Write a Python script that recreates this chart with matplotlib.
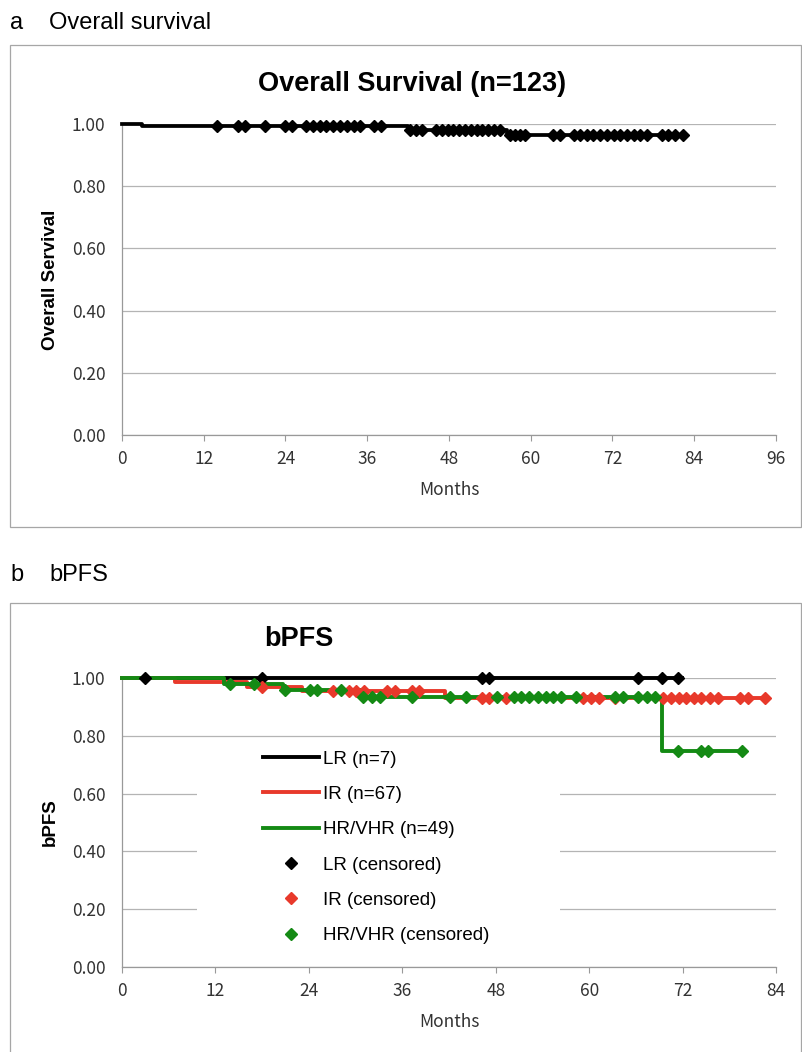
import numpy as np
import matplotlib
matplotlib.use("Agg")
import matplotlib.pyplot as plt
from matplotlib.patches import Rectangle

# ---------------- data ----------------
# Overall survival (n=123): step times / survival levels
os_times = [0, 3, 42, 56.5, 82.4]
os_surv = [1.0, 0.992, 0.982, 0.965, 0.965]
os_censored = [14, 17, 18, 21, 24, 25, 27, 28, 29, 30, 31, 32, 33, 34, 35, 37, 38,
               42.3, 43.2, 44.1, 46.1, 47.0, 47.9, 48.6, 49.5, 50.3, 51.2, 52.1, 52.9, 53.7, 54.6, 55.5,
               57.0, 57.7, 58.4, 59.2, 63.3, 64.3, 66.3, 67.2, 68.2, 69.2, 70.2, 71.2, 72.2, 73.1,
               74.1, 75.1, 76.1, 77.0, 79.2, 80.2, 81.2, 82.4]

# bPFS
lr_times = [0, 71.9]
lr_surv = [1.0, 1.0]
lr_censored = [3.0, 18.0, 46.2, 47.2, 66.3, 69.4, 71.4]

ir_times = [0, 6.8, 16.0, 23.1, 41.5, 82.6]
ir_surv = [1.0, 0.985, 0.970, 0.955, 0.930, 0.930]
ir_censored = [18.0, 27.1, 29.1, 30.0, 31.1, 34.0, 35.1, 37.2, 38.2,
               46.2, 47.2, 49.3, 59.2, 60.3, 61.3, 63.3, 69.5, 70.5, 71.5, 72.5, 73.5,
               74.4, 75.5, 76.5, 79.4, 80.4, 82.6]

hr_times = [0, 13.1, 20.7, 30.8, 69.3, 79.6]
hr_surv = [1.0, 0.980, 0.959, 0.935, 0.748, 0.748]
hr_censored = [13.9, 16.9, 20.9, 24.1, 25.1, 28.1, 31.0, 32.1, 33.1, 37.2, 42.1, 44.2,
               48.2, 50.3, 51.3, 52.3, 53.4, 54.4, 55.4, 56.4, 58.3, 63.3, 64.4, 66.3,
               67.4, 68.4, 71.4, 74.4, 75.3, 79.6]

labels_lines = ["LR (n=7)", "IR (n=67)", "HR/VHR (n=49)"]
labels_cens = ["LR (censored)", "IR (censored)", "HR/VHR (censored)"]

BLACK = "#000000"
RED = "#e8392b"
GREEN = "#148a14"
GRID = "#b4b4b4"
TXT = "#333333"
TICKFONT = ["Noto Sans CJK JP", "DejaVu Sans"]
ARIAL = ["Liberation Sans", "DejaVu Sans"]


def surv_at(times, surv, t):
    times = np.asarray(times)
    surv = np.asarray(surv)
    idx = np.searchsorted(times, np.asarray(t), side="right") - 1
    return surv[idx]


fig = plt.figure(figsize=(8.02, 10.52), dpi=100)
W, H = 802, 1052


def fx(px):
    return px / W


def fy(py):
    return 1 - py / H


# outer boxes
fig.add_artist(Rectangle((fx(10), fy(527)), fx(791), (527 - 45) / H,
                         transform=fig.transFigure, fill=False, edgecolor="#a6a6a6", lw=0.9))
fig.add_artist(Rectangle((fx(10), fy(1060)), fx(791), (1060 - 603) / H,
                         transform=fig.transFigure, fill=False, edgecolor="#a6a6a6", lw=0.9))

fig.text(fx(10), fy(29), "a", fontsize=17, family=ARIAL, va="baseline")
fig.text(fx(49), fy(29), "Overall survival", fontsize=17, family=ARIAL, va="baseline")
fig.text(fx(10), fy(581), "b", fontsize=17, family=ARIAL, va="baseline")
fig.text(fx(49), fy(581), "bPFS", fontsize=17, family=ARIAL, va="baseline")


def style_axes(ax, xmax, ylabel):
    ax.set_xlim(0, xmax)
    ax.set_ylim(0, 1.0)
    ax.set_xticks(np.arange(0, xmax + 1, 12))
    ax.set_yticks(np.arange(0, 1.01, 0.2))
    ax.set_yticklabels([f"{v:.2f}" for v in np.arange(0, 1.01, 0.2)])
    for s in ["top", "right"]:
        ax.spines[s].set_visible(False)
    ax.spines["left"].set_color("#999999")
    ax.spines["bottom"].set_color("#999999")
    ax.spines["left"].set_linewidth(0.9)
    ax.spines["bottom"].set_linewidth(0.9)
    ax.grid(axis="y", color=GRID, lw=0.9, zorder=0)
    ax.set_axisbelow(True)
    ax.tick_params(axis="y", length=0, pad=12, labelsize=12.5, labelcolor=TXT)
    ax.tick_params(axis="x", length=4, color="#999999", pad=7, labelsize=12.5, labelcolor=TXT)
    for lab in ax.get_xticklabels() + ax.get_yticklabels():
        lab.set_family(TICKFONT)
    ax.set_xlabel("Months", family=TICKFONT, fontsize=12.5, color=TXT, labelpad=9)
    ax.set_ylabel(ylabel, family=ARIAL, fontsize=13.5, fontweight="bold", labelpad=9)


# ---------------- panel a ----------------
ax1 = fig.add_axes([fx(122), fy(435), (776 - 122) / W, (435 - 124) / H])
style_axes(ax1, 96, "Overall Servival")
ax1.step(os_times, os_surv, where="post", color=BLACK, lw=2.7, zorder=3, clip_on=False)
ax1.plot(os_censored, surv_at(os_times, os_surv, os_censored), ls="none", marker="D",
         ms=6.2, color=BLACK, zorder=4, clip_on=False)
fig.text(fx(412), fy(91), "Overall Survival (n=123)", ha="center", va="baseline",
         fontsize=19.5, fontweight="bold", family=ARIAL)

# ---------------- panel b ----------------
ax2 = fig.add_axes([fx(122), fy(967), (776 - 122) / W, (967 - 678) / H])
style_axes(ax2, 84, "bPFS")
ax2.add_patch(Rectangle(((197 - 122) / 654, (967 - 950) / 289), (560 - 197) / 654,
                        (950 - 745) / 289, transform=ax2.transAxes, facecolor="white",
                        edgecolor="none", zorder=1))
series = [(lr_times, lr_surv, lr_censored, BLACK),
          (ir_times, ir_surv, ir_censored, RED),
          (hr_times, hr_surv, hr_censored, GREEN)]
line_handles = []
cens_handles = []
for (t, s, c, col), ll in zip(series, labels_lines):
    h, = ax2.step(t, s, where="post", color=col, lw=2.8, zorder=3, clip_on=False, label=ll)
    line_handles.append(h)
for (t, s, c, col), lc in zip(series, labels_cens):
    h, = ax2.plot(c, surv_at(t, s, c), ls="none", marker="D", ms=6, color=col,
                  zorder=4, clip_on=False, label=lc)
    cens_handles.append(h)

leg = ax2.legend(handles=line_handles + cens_handles, loc="upper left",
                 bbox_to_anchor=((263 - 122) / 654 - 0.012, (967 - 743) / 289),
                 frameon=False, prop={"family": ARIAL, "size": 13.5},
                 handlelength=3.0, handletextpad=0.2, labelspacing=0.97,
                 borderaxespad=0)
fig.text(fx(299), fy(646), "bPFS", ha="center", va="baseline",
         fontsize=19.5, fontweight="bold", family=ARIAL)

fig.savefig("out.png", dpi=100, facecolor="white")
